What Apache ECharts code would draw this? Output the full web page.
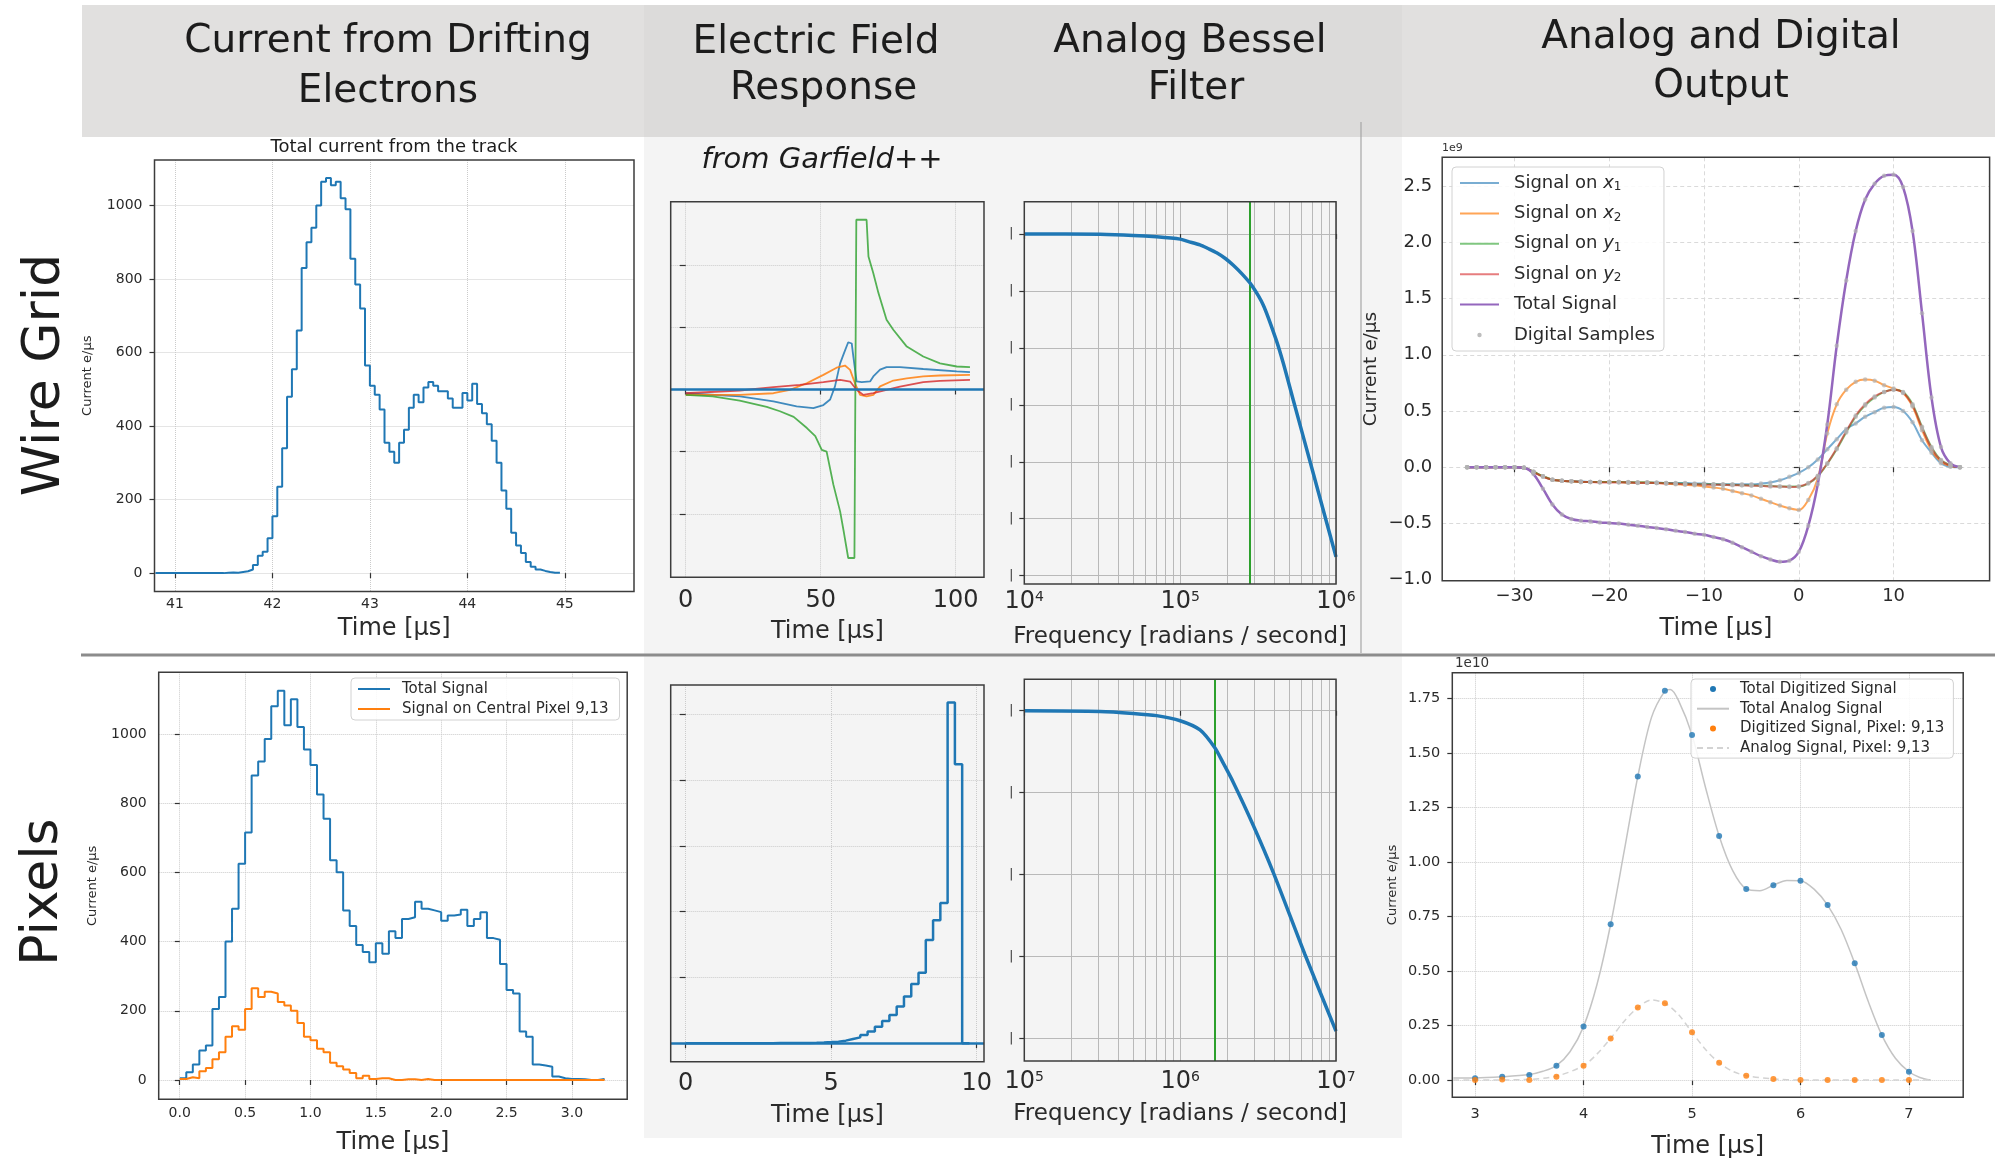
<!DOCTYPE html>
<html><head><meta charset="utf-8">
<script src="https://cdn.jsdelivr.net/npm/echarts@6/dist/echarts.min.js"></script>
<style>html,body{margin:0;padding:0;background:#fff}#c{width:1995px;height:1160px}</style>
</head><body><div id="c"></div><script>
const FONT = '"DejaVu Sans", "Noto Sans", sans-serif';
const TXT = '#2a2a2a';

// ================= DATA =================
// A: Wire grid - total current from the track (histogram, bins of 0.05 µs)
const wireCurrentBinStart = 40.80;
const wireCurrentBinWidth = 0.05;
const wireCurrentValues = [
  0,0,0,0,0,0,0,0,0,0,0,0,0,0,
  1,2,1,3,5,10,22,47,58,95,
  155,235,340,480,555,660,830,900,940,1000,
  1065,1075,1055,1065,1020,990,855,785,720,565,
  510,485,445,355,330,300,355,390,450,485,
  465,505,520,510,495,495,475,450,450,490,
  470,515,460,435,405,360,300,225,175,110,
  75,55,30,17,10,6,3,1,1
];
const wireCurrentXTicks = [41,42,43,44,45];
const wireCurrentYTicks = [0,200,400,600,800,1000];

// B: Wire grid - electric field response from Garfield++ ([time, response])
const fieldWireX1 = [[0,-0.06],[20.1,-0.11],[32.5,-0.19],[41.1,-0.27],[47.3,-0.30],[51,-0.25],[53.5,-0.16],[55.3,0.05],[57.2,0.42],[58.6,0.58],[60.2,0.76],[61.5,0.74],[62.1,0.53],[63.3,0.13],[65.2,0.12],[68.3,0.13],[69.5,0.21],[72,0.32],[74.4,0.36],[79.4,0.36],[88,0.33],[100.4,0.29],[105.3,0.28]];
const fieldWireX2 = [[0,-0.086],[20.1,-0.086],[32.5,-0.06],[38.6,-0.005],[44.8,0.10],[51,0.235],[55.9,0.35],[59,0.385],[60.9,0.315],[62.7,0.10],[64.6,-0.086],[67,-0.11],[69.5,-0.086],[72,0.05],[76.9,0.144],[81.9,0.18],[88,0.21],[94.2,0.225],[105.3,0.235]];
const fieldWireY1 = [[0,-0.086],[10,-0.11],[20,-0.18],[30,-0.28],[34.9,-0.35],[40,-0.44],[44.9,-0.62],[48,-0.75],[50.4,-0.97],[52.2,-1.0],[54.7,-1.53],[57.2,-1.96],[58.6,-2.30],[60.2,-2.71],[62.5,-2.71],[63.2,2.73],[67,2.73],[67.7,2.14],[69.5,1.87],[71.4,1.55],[74.4,1.12],[76.9,0.96],[81.9,0.69],[88,0.53],[94.2,0.42],[100.4,0.37],[105.3,0.36]];
const fieldWireY2 = [[0,-0.06],[20.1,-0.016],[32.5,0.037],[42.3,0.075],[51,0.118],[57.2,0.155],[60.9,0.128],[63.3,-0.005],[65.8,-0.086],[69.5,-0.06],[74.4,-0.005],[79.4,0.048],[88,0.118],[94.2,0.139],[105.3,0.155]];
const fieldWireXTicks = [0,50,100];
const fieldWireYTicks = [-2,-1,0,1,2];

// C: Wire grid - analog Bessel filter (frequency [rad/s], gain [dB])
const besselWireFreq = [1e4,3.06e4,5e4,7.06e4,1e5,1.12e5,1.341e5,1.51e5,1.715e5,1.95e5,2.194e5,2.51e5,2.876e5,3.418e5,4.121e5,4.592e5,5.323e5,6.981e5,8.5e5,1e6];
const besselWireGain = [0,-0.06,-0.25,-0.5,-0.9,-1.3,-1.9,-2.55,-3.3,-4.3,-5.5,-7.1,-9,-12.5,-18.5,-22.7,-29.2,-41,-49.6,-56.7];
const besselWireCutoff = 2.78e5;
const besselWireXTicks = [1e4,1e5,1e6];
const besselWireYTicks = [-60,-50,-40,-30,-20,-10,0];

// D: Wire grid - analog and digital output (1e9 e/µs), sampled every 1 µs
const sampleTimes = [-35,-34,-33,-32,-31,-30,-29,-28,-27,-26,-25,-24,-23,-22,-21,-20,-19,-18,-17,-16,-15,-14,-13,-12,-11,-10,-9,-8,-7,-6,-5,-4,-3,-2,-1,0,1,2,3,4,5,6,7,8,9,10,11,12,13,14,15,16,17];
const sigX1 = [0,0,0,0,0,0,-0.005,-0.04,-0.08,-0.11,-0.12,-0.125,-0.125,-0.13,-0.13,-0.13,-0.13,-0.13,-0.135,-0.135,-0.135,-0.14,-0.14,-0.14,-0.145,-0.145,-0.15,-0.15,-0.15,-0.15,-0.15,-0.145,-0.135,-0.115,-0.085,-0.05,0.0,0.07,0.16,0.25,0.34,0.39,0.45,0.49,0.53,0.535,0.50,0.40,0.24,0.13,0.035,0.005,0];
const sigX2 = [0,0,0,0,0,0,-0.005,-0.04,-0.08,-0.11,-0.12,-0.125,-0.13,-0.13,-0.13,-0.13,-0.13,-0.135,-0.135,-0.135,-0.14,-0.145,-0.15,-0.155,-0.16,-0.17,-0.18,-0.19,-0.21,-0.23,-0.25,-0.28,-0.31,-0.34,-0.365,-0.38,-0.29,-0.10,0.30,0.56,0.69,0.76,0.78,0.77,0.73,0.70,0.66,0.54,0.33,0.15,0.05,0.01,0];
const sigY1 = [0,0,0,0,0,0,-0.005,-0.04,-0.08,-0.11,-0.12,-0.125,-0.13,-0.13,-0.13,-0.13,-0.13,-0.135,-0.135,-0.135,-0.14,-0.14,-0.145,-0.145,-0.15,-0.15,-0.15,-0.155,-0.155,-0.16,-0.16,-0.165,-0.165,-0.17,-0.17,-0.17,-0.145,-0.08,0.03,0.16,0.31,0.45,0.55,0.62,0.67,0.69,0.67,0.56,0.36,0.18,0.065,0.02,0];
const sigY2 = [0,0,0,0,0,0,-0.005,-0.045,-0.085,-0.11,-0.12,-0.125,-0.13,-0.13,-0.135,-0.135,-0.135,-0.135,-0.14,-0.14,-0.14,-0.145,-0.145,-0.15,-0.15,-0.155,-0.155,-0.155,-0.16,-0.16,-0.165,-0.165,-0.17,-0.17,-0.175,-0.17,-0.14,-0.075,0.035,0.17,0.32,0.46,0.56,0.63,0.67,0.69,0.665,0.55,0.35,0.17,0.06,0.015,0];
const sigTotal = [0,0,0,0,0,0,-0.005,-0.06,-0.19,-0.33,-0.42,-0.46,-0.475,-0.48,-0.49,-0.495,-0.50,-0.51,-0.52,-0.53,-0.54,-0.55,-0.565,-0.575,-0.59,-0.60,-0.62,-0.64,-0.67,-0.71,-0.75,-0.79,-0.82,-0.84,-0.83,-0.75,-0.52,-0.15,0.38,1.08,1.66,2.10,2.38,2.52,2.59,2.60,2.49,2.10,1.37,0.62,0.18,0.035,0];
const outWireXTicks = [-30,-20,-10,0,10];
const outWireYTicks = [-1,-0.5,0,0.5,1,1.5,2,2.5];

// E: Pixels - current (histogram, bins of 0.05 µs)
const pixelBinStart = 0;
const pixelBinWidth = 0.05;
const pixelTotalValues = [5,22,45,85,100,205,240,400,495,625, 715,880,920,985,1080,1125,1025,1100,1020,955, 910,825,755,635,600,490,445,390,370,340, 395,365,430,410,465,470,515,495,490,485, 460,475,478,492,445,465,485,410,405,335, 260,250,140,125,45,42,38,10,5,3, 3,2,0,0,3];
const pixelCentralValues = [3,8,5,25,35,60,80,125,155,145, 205,265,240,255,250,225,215,200,165,125, 115,90,80,50,40,30,20,5,12,3, 5,5,0,0,2,2,0,3,0,0, 0,0,0,0,0,0,0,0,0,0, 0,0,0,0,0,0,0,0,0,0, 0,0,0,0,0];
const pixelXTicks = [0,0.5,1,1.5,2,2.5,3];
const pixelYTicks = [0,200,400,600,800,1000];

// F: Pixels - electric field response (histogram, bins of 0.25 µs)
const fieldPixelBinStart = 0;
const fieldPixelBinWidth = 0.25;
const fieldPixelValues = [0,0,0,0, 0,0,0,0, 0.001,0.001,0.002,0.002, 0.003,0.003,0.004,0.005, 0.006,0.008,0.012,0.018, 0.025,0.04,0.066,0.09, 0.127,0.18,0.25,0.34, 0.43,0.56,0.71,0.90, 1.07,1.57,1.87,2.13, 5.18,4.24,0];
const fieldPixelXTicks = [0,5,10];
const fieldPixelYTicks = [0,1,2,3,4,5];

// G: Pixels - analog Bessel filter
const besselPixelFreq = [1e5,3.06e5,5e5,7.06e5,1e6,1.341e6,1.673e6,1.891e6,2.194e6,2.948e6,3.962e6,6.32e6,1e7];
const besselPixelGain = [0,-0.16,-0.65,-1.2,-2.45,-4.7,-9.1,-12.8,-17.5,-28,-39.5,-59.5,-78.2];
const besselPixelCutoff = 1.673e6;
const besselPixelXTicks = [1e5,1e6,1e7];
const besselPixelYTicks = [-80,-60,-40,-20,0];

// H: Pixels - analog and digital output (1e10 e/µs)
const digiTimes = [3,3.25,3.5,3.75,4,4.25,4.5,4.75,5,5.25,5.5,5.75,6,6.25,6.5,6.75,7];
const digiTotal = [0.008,0.015,0.023,0.066,0.245,0.714,1.391,1.784,1.582,1.119,0.876,0.893,0.914,0.802,0.535,0.206,0.038];
const digiPixel = [0,0.003,0,0.015,0.066,0.191,0.332,0.352,0.219,0.079,0.02,0.005,0,0,0,0,0];
const analogTotalTimes = [2.8,3.0,3.25,3.5,3.625,3.75,3.875,4.0,4.125,4.25,4.375,4.5,4.625,4.75,4.8,4.875,5.0,5.125,5.25,5.375,5.5,5.625,5.75,5.875,6.0,6.125,6.25,6.375,6.5,6.625,6.75,6.875,7.0,7.1,7.2];
const analogTotalValues = [0.01,0.01,0.015,0.025,0.04,0.066,0.13,0.245,0.44,0.714,1.05,1.391,1.66,1.784,1.79,1.74,1.582,1.34,1.119,0.96,0.876,0.868,0.893,0.915,0.914,0.875,0.802,0.69,0.535,0.36,0.206,0.10,0.038,0.012,0.0];
const analogPixelTimes = [2.8,3.0,3.5,3.75,4.0,4.125,4.25,4.375,4.5,4.625,4.75,4.875,5.0,5.125,5.25,5.375,5.5,5.75,6.0,7.2];
const analogPixelValues = [0,0,0.003,0.018,0.066,0.12,0.191,0.27,0.332,0.367,0.352,0.30,0.219,0.14,0.079,0.04,0.02,0.005,0,0];
const outPixelXTicks = [3,4,5,6,7];
const outPixelYTicks = [0,0.25,0.5,0.75,1,1.25,1.5,1.75];

// ================= HELPERS =================
function histPoints(start, width, values) {
  const pts = values.map((v, i) => [+(start + i * width).toFixed(4), v]);
  pts.push([+(start + values.length * width).toFixed(4), values[values.length - 1]]);
  return pts;
}
function pairs(xs, ys) { return xs.map((x, i) => [x, ys[i]]); }
function decadeMinors(lo, hi) {
  const out = [];
  for (let d = lo; d < hi; d *= 10) for (let k = 2; k <= 9; k++) out.push(d * k);
  return out;
}
function dotIcon(w, h, r) {
  return 'path://M0,0M' + w + ',0M0,' + h + 'M' + w + ',' + h +
    'M' + (w / 2 - r) + ',' + (h / 2) + 'a' + r + ',' + r + ' 0 1,0 ' + (2 * r) + ',0a' + r + ',' + r + ' 0 1,0 ' + (-2 * r) + ',0Z';
}
const minusFmt = s => s.replace('-', '\u2212');

function mkAxis(o) {
  const ticks = o.ticks;
  const span = Math.abs(o.max - o.min);
  const near = v => !ticks || ticks.some(t => o.log
      ? Math.abs(Math.log10(t) - Math.log10(v)) < 1e-6
      : Math.abs(t - v) < span * 1e-6);
  const a = {
    gridIndex: o.grid,
    type: o.log ? 'log' : 'value',
    min: o.min, max: o.max,
    splitNumber: o.split || 5,
    nameMoveOverlap: false,
    axisLine: { show: false },
    axisTick: { show: true, length: o.tickLen || 5, inside: false, lineStyle: { color: '#333', width: 1.2 } },
    axisLabel: {
      show: !!o.fmt, color: TXT, fontFamily: FONT, fontSize: o.fs || 14,
      margin: (o.margin === undefined ? 8 : o.margin),
      formatter: o.fmt ? (v => near(v) ? o.fmt(v) : '') : null,
      rich: o.rich || {}
    },
    splitLine: o.gridStyle ? { show: true, lineStyle: o.gridStyle } : { show: false },
    minorTick: { show: false }, minorSplitLine: { show: false }
  };
  if (ticks) { a.axisTick.customValues = ticks; a.axisLabel.customValues = ticks; }
  if (o.log) a.logBase = 10;
  if (o.name) {
    a.name = o.name; a.nameLocation = 'middle'; a.nameGap = o.nameGap;
    a.nameTextStyle = { fontFamily: FONT, fontSize: o.nameFs, color: TXT };
  }
  return a;
}

const dotted = { color: '#cbcbcb', type: 'dotted', width: 1 };
const dashed = { color: '#dadada', type: [4, 3], width: 1 };
const solidGrid = { color: '#b9b9b9', width: 1 };
const supRich = {
  b: { fontFamily: FONT, fontSize: 24, color: TXT, lineHeight: 24, verticalAlign: 'bottom' },
  s: { fontFamily: FONT, fontSize: 14, color: TXT, lineHeight: 12, verticalAlign: 'top' }
};
const supFmt = v => '{b|10}{s|' + Math.round(Math.log10(v)) + '}';

// ================= LAYOUT =================
const grids = [
  { left: 154.5, top: 160, width: 479.5, height: 431.5 },   // A
  { left: 670.7, top: 201.7, width: 313.3, height: 375.6 }, // B
  { left: 1024.3, top: 201.7, width: 311.7, height: 382.3 },// C
  { left: 1442.2, top: 157.3, width: 547.4, height: 423.4 },// D
  { left: 158.7, top: 672.3, width: 468.5, height: 427 },   // E
  { left: 670.7, top: 685, width: 313.3, height: 376.7 },   // F
  { left: 1024.3, top: 679.3, width: 311.7, height: 381.7 },// G
  { left: 1452.3, top: 672.7, width: 510.9, height: 424.6 } // H
].map(g => Object.assign({ show: true, z: 10, backgroundColor: 'transparent', borderColor: '#3c3c3c', borderWidth: 1.5 }, g));

const xAxes = [
  mkAxis({ grid: 0, min: 40.79, max: 45.71, split: 5, ticks: wireCurrentXTicks, fmt: v => String(v), fs: 14, margin: 6, gridStyle: dotted, name: 'Time [μs]', nameGap: 25, nameFs: 24 }),
  mkAxis({ grid: 1, min: -5.56, max: 110.5, split: 2, ticks: fieldWireXTicks, fmt: v => String(v), fs: 24, margin: 11, gridStyle: dotted, name: 'Time [μs]', nameGap: 42, nameFs: 24 }),
  mkAxis({ grid: 2, log: true, min: 1e4, max: 1e6, ticks: besselWireXTicks, fmt: supFmt, rich: supRich, margin: 6, gridStyle: solidGrid, name: 'Frequency [radians / second]', nameGap: 42, nameFs: 23 }),
  mkAxis({ grid: 3, min: -37.63, max: 20.13, split: 6, ticks: outWireXTicks, fmt: v => minusFmt(String(v)), fs: 18, margin: 7, gridStyle: dashed, name: 'Time [μs]', nameGap: 36, nameFs: 24 }),
  mkAxis({ grid: 4, min: -0.161, max: 3.423, split: 7, ticks: pixelXTicks, fmt: v => v.toFixed(1), fs: 14, margin: 7, gridStyle: dotted, name: 'Time [μs]', nameGap: 31, nameFs: 24 }),
  mkAxis({ grid: 5, min: -0.515, max: 10.25, split: 2, ticks: fieldPixelXTicks, fmt: v => String(v), fs: 24, margin: 10, gridStyle: dotted, name: 'Time [μs]', nameGap: 42, nameFs: 24 }),
  mkAxis({ grid: 6, log: true, min: 1e5, max: 1e7, ticks: besselPixelXTicks, fmt: supFmt, rich: supRich, margin: 9, gridStyle: solidGrid, name: 'Frequency [radians / second]', nameGap: 42, nameFs: 23 }),
  mkAxis({ grid: 7, min: 2.79, max: 7.5, split: 5, ticks: outPixelXTicks, fmt: v => String(v), fs: 14.5, margin: 9, gridStyle: dotted, name: 'Time [μs]', nameGap: 37, nameFs: 24 })
];
const yAxes = [
  mkAxis({ grid: 0, min: -50, max: 1124, split: 6, ticks: wireCurrentYTicks, fmt: v => String(v), fs: 14, margin: 12, gridStyle: dotted, name: 'Current e/μs', nameGap: 60, nameFs: 13 }),
  mkAxis({ grid: 1, min: -3.02, max: 3.02, split: 6, ticks: fieldWireYTicks, tickLen: 6, gridStyle: dotted }),
  mkAxis({ grid: 2, min: -61.46, max: 5.67, split: 7, ticks: besselWireYTicks, fmt: () => '|', fs: 12, margin: 11, gridStyle: solidGrid }),
  mkAxis({ grid: 3, min: -1.008, max: 2.755, split: 7, ticks: outWireYTicks, fmt: v => minusFmt(v.toFixed(1)), fs: 18, margin: 10, gridStyle: dashed, name: 'Current e/μs', nameGap: 62, nameFs: 18.5 }),
  mkAxis({ grid: 4, min: -55.8, max: 1178, split: 6, ticks: pixelYTicks, fmt: v => String(v), fs: 14, margin: 12, gridStyle: dotted, name: 'Current e/μs', nameGap: 60, nameFs: 13 }),
  mkAxis({ grid: 5, min: -0.28, max: 5.445, split: 6, ticks: fieldPixelYTicks, tickLen: 6, gridStyle: dotted }),
  mkAxis({ grid: 6, min: -85.5, max: 7.67, split: 5, ticks: besselPixelYTicks, fmt: () => '|', fs: 12, margin: 11, gridStyle: solidGrid }),
  mkAxis({ grid: 7, min: -0.079, max: 1.867, split: 5, ticks: outPixelYTicks, fmt: v => v.toFixed(2), fs: 14.5, margin: 12, name: 'Current e/μs', nameGap: 53, nameFs: 13 })
];

const noSym = { symbol: 'none', showSymbol: false };
function line(name, idx, data, color, width, extra) {
  return Object.assign({ type: 'line', name, xAxisIndex: idx, yAxisIndex: idx, data, ...noSym,
    lineStyle: { color, width }, itemStyle: { color }, z: 2, silent: true }, extra || {});
}
function vlines(values, style) { return values.map(v => ({ xAxis: v, lineStyle: style })); }
function hlines(values, style) { return values.map(v => ({ yAxis: v, lineStyle: style })); }
const mlBase = { silent: true, symbol: ['none', 'none'], label: { show: false }, animation: false };

const C = { blue: '#1f77b4', orange: '#ff7f0e', green: '#2ca02c', red: '#d62728', purple: '#9467bd' };

const digitalSamples = [];
[sigX1, sigX2, sigY1, sigY2, sigTotal].forEach(arr => arr.forEach((v, i) => digitalSamples.push([sampleTimes[i], v])));

const series = [
  // A
  line('Wire current', 0, histPoints(wireCurrentBinStart, wireCurrentBinWidth, wireCurrentValues), C.blue, 2, { step: 'end' }),
  // B
  line('B x1', 1, fieldWireX1, 'rgba(31,119,180,0.85)', 1.8),
  line('B x2', 1, fieldWireX2, 'rgba(255,127,14,0.85)', 1.8),
  line('B y1', 1, fieldWireY1, 'rgba(44,160,44,0.8)', 1.8),
  line('B y2', 1, fieldWireY2, 'rgba(214,39,40,0.8)', 1.8, {
    markLine: Object.assign({ z: 6, data: hlines([0], { color: C.blue, width: 2.5, type: 'solid' }) }, mlBase)
  }),
  // C
  line('C gain', 2, pairs(besselWireFreq, besselWireGain), C.blue, 3.5, {
    smooth: 0.25, z: 3,
    markLine: Object.assign({ z: 1, data: vlines(decadeMinors(1e4, 1e6), { color: '#b9b9b9', width: 1, type: 'solid' })
      .concat(vlines([besselWireCutoff], { color: C.green, width: 2, type: 'solid' })) }, mlBase)
  }),
  // D
  line('Signal on x1', 3, pairs(sampleTimes, sigX1), 'rgba(31,119,180,0.6)', 2, { smooth: 0.35 }),
  line('Signal on x2', 3, pairs(sampleTimes, sigX2), 'rgba(255,127,14,0.7)', 2, { smooth: 0.35 }),
  line('Signal on y1', 3, pairs(sampleTimes, sigY1), 'rgba(44,160,44,0.6)', 2, { smooth: 0.35 }),
  line('Signal on y2', 3, pairs(sampleTimes, sigY2), 'rgba(214,39,40,0.6)', 2, { smooth: 0.35 }),
  line('Total Signal', 3, pairs(sampleTimes, sigTotal), C.purple, 2.5, { smooth: 0.35 }),
  { type: 'scatter', name: 'Digital Samples', xAxisIndex: 3, yAxisIndex: 3, data: digitalSamples, symbolSize: 4.5,
    itemStyle: { color: 'rgba(178,178,178,0.85)' }, z: 4, silent: true },
  // E
  line('Total Signal ', 4, histPoints(pixelBinStart, pixelBinWidth, pixelTotalValues), C.blue, 2, { step: 'end' }),
  line('Signal on Central Pixel 9,13', 4, histPoints(pixelBinStart, pixelBinWidth, pixelCentralValues), C.orange, 2, { step: 'end' }),
  // F
  line('F field', 5, histPoints(fieldPixelBinStart, fieldPixelBinWidth, fieldPixelValues), C.blue, 2.5, {
    step: 'end',
    markLine: Object.assign({ z: 6, data: hlines([0], { color: C.blue, width: 2.5, type: 'solid' }) }, mlBase)
  }),
  // G
  line('G gain', 6, pairs(besselPixelFreq, besselPixelGain), C.blue, 3.5, {
    smooth: 0.25, z: 3,
    markLine: Object.assign({ z: 1, data: vlines(decadeMinors(1e5, 1e7), { color: '#b9b9b9', width: 1, type: 'solid' })
      .concat(vlines([besselPixelCutoff], { color: C.green, width: 2, type: 'solid' })) }, mlBase)
  }),
  // H
  line('Total Analog Signal', 7, pairs(analogTotalTimes, analogTotalValues), '#c4c4c4', 1.5, {
    smooth: 0.3,
    markLine: Object.assign({ z: 1, data: hlines(outPixelYTicks, { color: '#cbcbcb', width: 1, type: 'dotted' }) }, mlBase)
  }),
  line('Analog Signal, Pixel: 9,13', 7, pairs(analogPixelTimes, analogPixelValues), '#d3d3d3', 1.5, {
    smooth: 0.3, lineStyle: { color: '#d3d3d3', width: 1.5, type: [6, 4] }
  }),
  { type: 'scatter', name: 'Total Digitized Signal', xAxisIndex: 7, yAxisIndex: 7, data: pairs(digiTimes, digiTotal),
    symbolSize: 6, itemStyle: { color: C.blue }, z: 4, silent: true },
  { type: 'scatter', name: 'Digitized Signal, Pixel: 9,13', xAxisIndex: 7, yAxisIndex: 7, data: pairs(digiTimes, digiPixel),
    symbolSize: 6, itemStyle: { color: C.orange }, z: 4, silent: true }
];

// line legend entries: hide the centre symbol; dot entries keep full opacity
const legendBox = { orient: 'vertical', selectedMode: false, backgroundColor: 'rgba(255,255,255,0.85)',
  borderColor: '#d2d2d2', borderWidth: 1, borderRadius: 4, itemStyle: { opacity: 0 } };
const dotItem = (name, w, h, r) => ({ name, icon: dotIcon(w, h, r), itemStyle: { opacity: 1 } });
const subRich = {
  n: { fontFamily: FONT, fontSize: 18, color: TXT, lineHeight: 20 },
  i: { fontFamily: FONT, fontSize: 18, color: TXT, lineHeight: 20, fontStyle: 'italic' },
  s: { fontFamily: FONT, fontSize: 12, color: TXT, lineHeight: 12, verticalAlign: 'bottom' }
};
const legends = [
  Object.assign({}, legendBox, {
    left: 1452, top: 167, itemWidth: 39, itemHeight: 12, itemGap: 10.4, padding: [6, 9, 6, 7],
    data: ['Signal on x1', 'Signal on x2', 'Signal on y1', 'Signal on y2', 'Total Signal',
      dotItem('Digital Samples', 39, 12, 2.2)],
    textStyle: { fontFamily: FONT, fontSize: 18, color: TXT, lineHeight: 20, padding: [0, 0, 0, 10], rich: subRich },
    formatter: name => {
      const m = /^Signal on ([xy])(\d)$/.exec(name);
      return m ? '{n|Signal on }{i|' + m[1] + '}{s|' + m[2] + '}' : '{n|' + name + '}';
    }
  }),
  Object.assign({}, legendBox, {
    left: 351, top: 678, itemWidth: 32, itemHeight: 12, itemGap: 4, padding: [3, 11, 3, 6],
    data: ['Total Signal ', 'Signal on Central Pixel 9,13'],
    textStyle: { fontFamily: FONT, fontSize: 15, color: TXT, lineHeight: 16, padding: [0, 0, 0, 7] }
  }),
  Object.assign({}, legendBox, {
    left: 1691, top: 679, itemWidth: 32, itemHeight: 12, itemGap: 3.7, padding: [2, 9, 2, 5],
    data: [dotItem('Total Digitized Signal', 32, 12, 3), 'Total Analog Signal',
      dotItem('Digitized Signal, Pixel: 9,13', 32, 12, 3), 'Analog Signal, Pixel: 9,13'],
    textStyle: { fontFamily: FONT, fontSize: 15, color: TXT, lineHeight: 16, padding: [0, 0, 0, 6] }
  })
];

function txt(text, x, y, size, extra) {
  return Object.assign({ type: 'text', x, y, z: 50, silent: true,
    style: Object.assign({ text, fontSize: size, fontFamily: FONT, fill: '#1c1c1c',
      align: 'center', verticalAlign: 'middle', textAlign: 'center', textVerticalAlign: 'middle' }, (extra && extra.style) || {}) },
    extra && extra.el ? extra.el : {});
}

const graphics = [
  { type: 'rect', z: -10, silent: true, shape: { x: 82, y: 5, width: 1913, height: 132 }, style: { fill: '#e1e0df' } },
  { type: 'rect', z: -9, silent: true, shape: { x: 644, y: 5, width: 758, height: 132 }, style: { fill: '#dcdbda' } },
  { type: 'rect', z: -10, silent: true, shape: { x: 644, y: 137, width: 758, height: 1001 }, style: { fill: '#f4f4f4' } },
  { type: 'line', z: -5, silent: true, shape: { x1: 81, y1: 655, x2: 1995, y2: 655 }, style: { stroke: '#8c8c8c', lineWidth: 3 } },
  { type: 'line', z: -5, silent: true, shape: { x1: 1361, y1: 122, x2: 1361, y2: 653 }, style: { stroke: '#a6a6a6', lineWidth: 1.2 } },
  txt('Current from Drifting', 388, 41.5, 39), txt('Electrons', 388, 92, 39),
  txt('Electric Field', 816, 42.5, 39), txt('Response', 823.6, 88.5, 39),
  txt('Analog Bessel', 1190, 41.5, 39), txt('Filter', 1196, 88.5, 39),
  txt('Analog and Digital', 1721, 37.5, 39), txt('Output', 1721, 86.5, 39),
  txt('Wire Grid', 45, 375, 52, { el: { rotation: Math.PI / 2 } }),
  txt('Pixels', 43, 892, 52, { el: { rotation: Math.PI / 2 } }),
  txt('Total current from the track', 394, 147, 18),
  txt('from Garfield++', 822, 160, 29, { style: { fontStyle: 'italic' } }),
  txt('1e9', 1442, 148, 11, { style: { align: 'left', textAlign: 'left', fill: '#333' } }),
  txt('1e10', 1455, 663, 13.5, { style: { align: 'left', textAlign: 'left', fill: '#333' } })
];

const chart = echarts.init(document.getElementById('c'), null, { renderer: 'canvas' });
chart.setOption({
  animation: false,
  backgroundColor: '#ffffff',
  textStyle: { fontFamily: FONT },
  grid: grids,
  xAxis: xAxes,
  yAxis: yAxes,
  legend: legends,
  series: series,
  graphic: { elements: graphics }
});
</script></body></html>
